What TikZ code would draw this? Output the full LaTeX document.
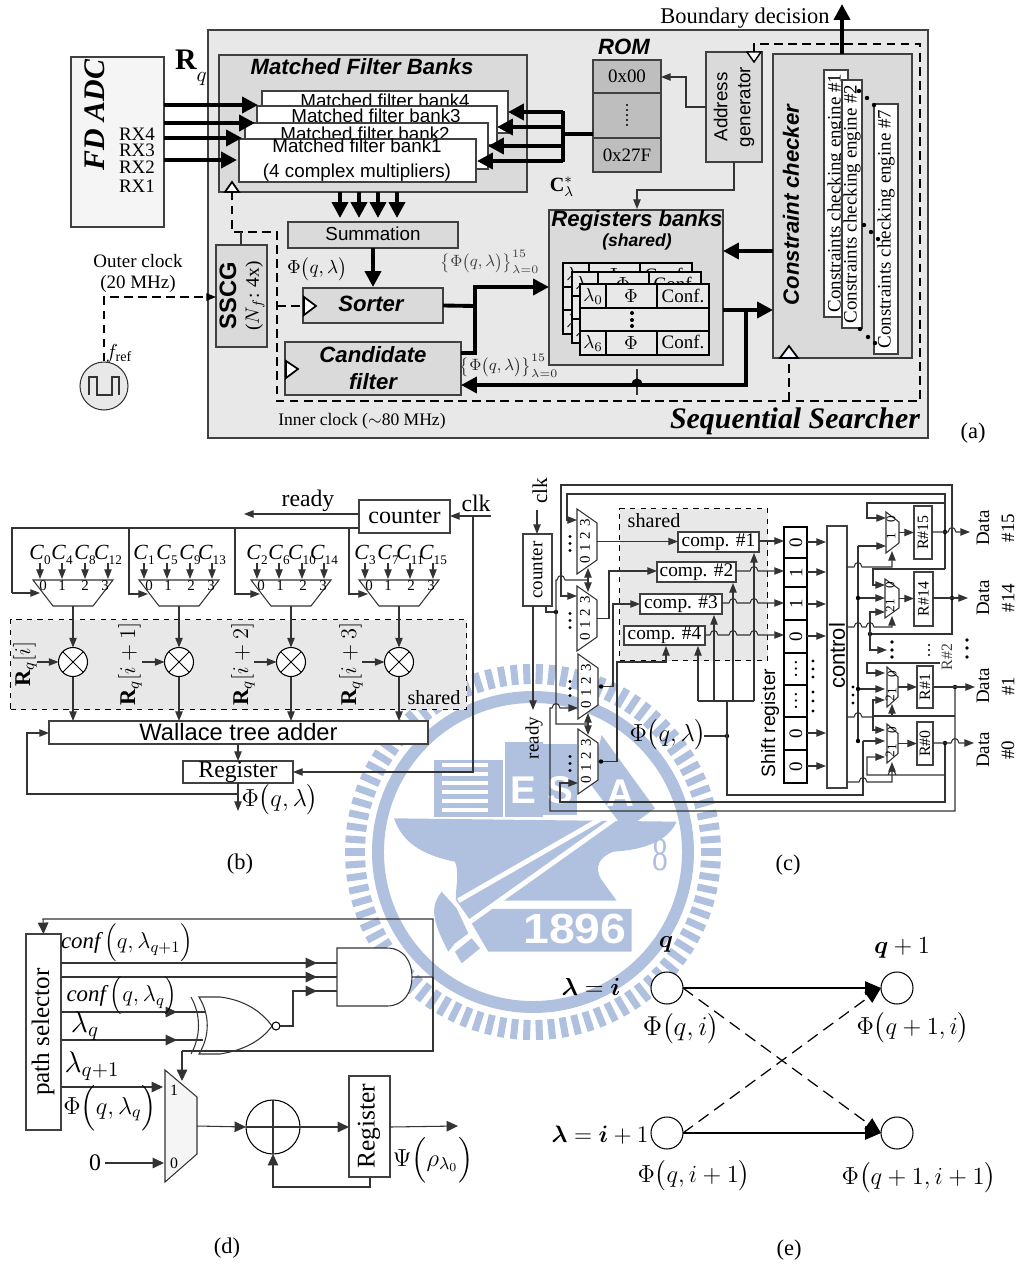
\documentclass[tikz,border=0pt]{standalone}
\usepackage{fix-cm}
\usepackage{amsmath}
\usepackage{fontspec}
\setmainfont{Liberation Serif}
\setsansfont{Liberation Sans}
\usetikzlibrary{arrows.meta}
\definecolor{panelA}{HTML}{E8E8E8}
\definecolor{panelB}{HTML}{DADADA}
\definecolor{romgray}{HTML}{BEBEBE}
\definecolor{wmblue}{HTML}{B0C0DF}
\newcommand{\hop}[2]{-- (#1-4,#2) .. controls (#1-3,#2-6) and (#1+3,#2-6) .. (#1+4,#2)}
\newcommand{\PhiQL}{\Phi\big(q,\lambda\big)}
\tikzset{
  sz/.style 2 args={minimum width=(#1)*0.02cm,minimum height=(#2)*0.02cm},
  boxnode/.style={draw=black!75,line width=.6pt,inner sep=0pt,outer sep=0pt,anchor=north west,align=center},
  wire/.style={line width=.6pt,draw=black!80},
  clocknet/.style={line width=.6pt,dash pattern=on 5pt off 3pt},
  bus/.style={line width=2.2pt,>={Triangle[length=9pt,width=9pt]}},
  clktri/.style={draw=black,fill=white,line width=1pt},
  lab/.style={inner sep=0pt,font=\fontsize{10.8}{12.5}\selectfont},
  labbig/.style={inner sep=0pt,font=\fontsize{13.5}{15}\selectfont},
  labsmall/.style={inner sep=0pt,font=\fontsize{9}{10}\selectfont},
  labtiny/.style={inner sep=0pt,font=\fontsize{7.5}{8}\selectfont},
  sanslab/.style={inner sep=0pt,align=center,font=\sffamily\fontsize{10.7}{13}\selectfont},
  headlab/.style={inner sep=0pt,align=center,font=\sffamily\bfseries\itshape\fontsize{12.6}{14}\selectfont},
  mathbig/.style={inner sep=0pt,font=\fontsize{14}{16}\selectfont},
  compbox/.style={boxnode,fill=white,font=\fontsize{11}{12}\selectfont},
  mul/.style={circle,draw=black,fill=white,line width=.6pt,sz={29}{29},inner sep=0pt,outer sep=0pt,
    path picture={\draw[line width=.5pt] (path picture bounding box.north east) -- (path picture bounding box.south west)
      (path picture bounding box.north west) -- (path picture bounding box.south east);}},
  state/.style={circle,draw=black,fill=white,line width=.6pt,sz={32}{32},inner sep=0pt,outer sep=0pt},
}

\begin{document}
\begin{tikzpicture}[x=0.02cm,y=-0.02cm,>={Triangle[length=5.5pt,width=4.2pt]}]
  \useasboundingbox (0,0) rectangle (1019,1268);

  % background emblem
  \foreach \a in {0,4,...,356}{
    \draw[wmblue,line width=4pt] ({533+168*cos(\a)},{852+168*sin(\a)}) -- ({533+188*cos(\a)},{852+188*sin(\a)});
  }
  \draw[wmblue,line width=6.8pt] (533,852) circle (155);
  \begin{scope}[shift={(330,650)},x=0.00667cm,y=-0.00667cm]
    \fill[wmblue] (192,505) -- (1040,515) .. controls (1010,580) and (930,600) .. (850,605)
      .. controls (810,620) and (790,650) .. (815,690) -- (860,752) -- (510,752) -- (420,810) -- (378,750)
      .. controls (375,720) and (390,670) .. (375,635) .. controls (300,620) and (220,590) .. (192,505) -- cycle;
    \fill[wmblue] (335,725) .. controls (300,770) and (305,810) .. (355,905) -- (375,880) -- (415,850) -- (380,775) -- cycle;
    \fill[wmblue] (375,905) -- (395,940) -- (450,895) -- (425,865) -- cycle;
    \fill[wmblue] (470,777) -- (905,777) -- (905,905) -- (475,905) -- (425,820) -- cycle;
    \draw[white,line width=2.8pt] (385,752) -- (850,485);
    \draw[white,line width=2.8pt] (420,815) -- (870,495);
    \fill[wmblue] (312,330) rectangle (520,500);
    \fill[wmblue] (525,275) rectangle (640,500);
    \fill[wmblue] (640,283) rectangle (740,495);
    \fill[wmblue] (815,255) -- (975,475) -- (885,540) -- (780,400) -- cycle;
    \foreach \yy in {345,372,399,426,453,480}{\draw[white,line width=2.4pt] (337,\yy) -- (473,\yy);}
    \node[font=\sffamily\bfseries\fontsize{24}{24}\selectfont,text=white,xscale=1.1] (wmyear) at (735,838) {1896};
    \node[font=\sffamily\bfseries\fontsize{22}{24}\selectfont,text=white] (wmE) at (580,420) {E};
    \node[font=\sffamily\bfseries\fontsize{22}{24}\selectfont,text=white] (wmS) at (690,420) {S};
    \node[font=\sffamily\bfseries\fontsize{22}{24}\selectfont,text=white] (wmA) at (870,430) {A};
    \node[font=\fontsize{18}{20}\selectfont,text=wmblue,yscale=1.5] (wm8) at (990,615) {8};
  \end{scope}

  % (a) sequential searcher
  \node[boxnode,fill=panelA,sz={720}{408}] (searcher) at (208,30) {};
  \node[boxnode,fill=white!96!black,sz={93}{170}] (adc) at (71,57) {};
  \node[inner sep=0pt,rotate=90,font=\bfseries\itshape\fontsize{17}{18}\selectfont] (adctxt) at (95,115) {FD ADC};
  \node[lab] (rx4) at (137,134) {RX4};
  \node[lab] (rx3) at (137,150) {RX3};
  \node[lab] (rx2) at (137,167) {RX2};
  \node[lab] (rx1) at (137,186) {RX1};
  \node[inner sep=0pt,font=\fontsize{17}{18}\selectfont] (rq) at (191,68) {$\mathbf{R}\raisebox{-7pt}{$\scriptstyle q$}$};

  \node[boxnode,fill=panelB,sz={308}{137}] (mfb) at (219,55) {};
  \node[headlab] (mfbtxt) at (362,67) {Matched Filter Banks};
  \node[boxnode,fill=white,sz={246}{42}] (bank4) at (262,91) {};
  \node[sanslab] (bank4txt) at (385,101) {Matched filter bank4};
  \node[boxnode,fill=white,sz={240}{39}] (bank3) at (257,106) {};
  \node[sanslab] (bank3txt) at (376,116) {Matched filter bank3};
  \node[boxnode,fill=white,sz={243}{46}] (bank2) at (245,123) {};
  \node[sanslab] (bank2txt) at (365,134) {Matched filter bank2};
  \node[boxnode,fill=white,sz={237}{43}] (bank1) at (239,139) {};
  \node[sanslab] (bank1txt) at (357,160) {Matched filter bank1\\[1.5pt](4 complex multipliers)};
  \foreach \yy/\xx in {105/258,123/255,138/242,160/237}{
    \draw[bus,->] (adc.east |- 0,\yy) -- (\xx,\yy);
  }
  \draw[clktri] (232,182) -- (225,192) -- (239,192) -- cycle;

  \node[headlab] (romtxt) at (624,47) {ROM};
  \node[boxnode,fill=romgray,sz={68}{33},font=\fontsize{10.8}{12}\selectfont] (rom0) at (593,60) {0x00};
  \node[boxnode,fill=romgray,sz={68}{45}] (rommid) at (593,93) {};
  \node[boxnode,fill=romgray,sz={68}{34},font=\fontsize{10.8}{12}\selectfont] (rom1) at (593,138) {0x27F};
  \foreach \yy in {105,110,...,125}{\fill (627,\yy) circle (1.2);}
  \draw[bus] (rommid.west |- 0,134) -- (563,134);
  \draw[bus] (563,111) -- (563,162);
  \foreach \yy/\xx in {112/508,127/497,146/488,161/477}{
    \draw[bus,->] (563,\yy) -- (\xx,\yy);
  }

  \node[boxnode,fill=panelB,sz={56}{110}] (addr) at (706,52) {};
  \node[sanslab,rotate=90] (addrtxt) at (734,107) {Address\\generator};
  \draw[wire,->] (addr.west) -- (686,107) -- (686,77) -- (rom0.east |- 0,77);
  \draw[wire,->] (addr.south) -- (734,190) -- (637,190) -- (637,209);
  \draw[clktri,line width=.8pt] (747,52) -- (761,52) -- (754,62) -- cycle;

  \node[inner sep=0pt,font=\fontsize{11.5}{13}\selectfont] (cstar) at (562,187) {$\mathbf{C}^{*}_{\lambda}$};

  \node[boxnode,fill=panelB,sz={174}{155}] (regs) at (549,210) {};
  \node[headlab] (regstxt) at (637,221) {Registers banks};
  \node[inner sep=0pt,font=\sffamily\bfseries\itshape\fontsize{10}{12}\selectfont] (sharedtxt) at (637,242) {(shared)};
  \foreach \dx/\dy in {-17/-21,-8/-12,0/0}{
    \begin{scope}[shift={(\dx,\dy)}]
      \draw[line width=1.1pt,fill=panelA] (580,284) rectangle (709,355);
      \draw[line width=1.1pt] (580,308) -- (709,308) (580,331) -- (709,331);
      \draw[line width=1.1pt] (606,284) -- (606,308) (606,331) -- (606,355);
      \draw[line width=1.1pt] (657,284) -- (657,308) (657,331) -- (657,355);
      \node[lab] at (593,296) {$\lambda_{0}$};
      \node[lab] at (631,296) {$\Phi$};
      \node[lab] at (683,296) {Conf.};
      \node[lab] at (593,343) {$\lambda_{6}$};
      \node[lab] at (631,343) {$\Phi$};
      \node[lab] at (683,342) {Conf.};
    \end{scope}
  }
  \foreach \yy in {313,320,326}{\fill (632,\yy) circle (2);}

  \node[boxnode,fill=panelB,sz={139}{304}] (check) at (773,54) {};
  \node[headlab,rotate=90] (checktxt) at (791,205) {Constraint checker};
  \node[boxnode,fill=white,sz={24}{247}] (eng1) at (824,70) {};
  \node[lab,rotate=90] (eng1txt) at (836,193) {Constraints checking engine \#1};
  \node[boxnode,fill=white,sz={20}{248}] (eng2) at (842,80) {};
  \node[lab,rotate=90] (eng2txt) at (852,204) {Constraints checking engine \#2};
  \node[boxnode,fill=white,sz={24}{250}] (eng7) at (874,104) {};
  \node[lab,rotate=90] (eng7txt) at (886,229) {Constraints checking engine \#7};
  \foreach \xx/\yy in {859/91,867/98,874/105,864/225,871/232,878/239,860/329,868/337,875/343}{
    \fill (\xx,\yy) circle (2.2);
  }
  \draw[clktri,fill=blue!5] (789,346) -- (780,358) -- (798,358) -- cycle;

  \node[labbig,font=\fontsize{12.8}{14}\selectfont] (bound) at (745,18) {Boundary decision};
  \draw[bus,->] (check.north -| 842,0) -- (842,4);
  \draw[bus,->] (check.west |- 0,251) -- (regs.east |- 0,251);
  \draw[bus,->] (regs.east |- 0,310) -- (check.west |- 0,310);

  \node[boxnode,fill=panelB,sz={170}{26}] (summ) at (288,222) {};
  \node[sanslab] (summtxt) at (373,234) {Summation};
  \foreach \xx in {340,359,378,397}{
    \draw[bus,->] (mfb.south -| \xx,0) -- (\xx,218);
  }
  \node[boxnode,fill=panelB,sz={140}{35}] (sorter) at (303,288) {};
  \node[headlab] (sortertxt) at (371,304) {Sorter};
  \draw[bus,->] (summ.south -| 373,0) -- (373,287);
  \node[lab] (sumphi) at (317,269) {$\PhiQL$};
  \node[boxnode,fill=panelB,sz={176}{53}] (cand) at (285,342) {};
  \node[headlab] (candtxt) at (373,368) {Candidate\\[1pt]filter};
  \draw[clktri] (304,297) -- (316,306) -- (304,315) -- cycle;
  \draw[clktri] (286,361) -- (298,369) -- (286,378) -- cycle;
  \node[boxnode,fill=panelB,sz={51}{102}] (sscg) at (216,245) {};
  \node[inner sep=0pt,rotate=90,font=\sffamily\bfseries\fontsize{13.5}{15}\selectfont] (sscgtxt) at (228,296) {SSCG};
  \node[inner sep=0pt,rotate=90,font=\fontsize{11}{13}\selectfont] (sscgnf) at (255,296) {($N_{f}$: 4x)};

  \draw[bus] (sorter.east) -- (475,306);
  \draw[bus,->] (cand.east |- 0,353) -- (475,353) -- (475,287) -- (regs.west |- 0,287);
  \node[inner sep=0pt,text=black!75,font=\fontsize{9.3}{11}\selectfont] (setphi) at (490,262) {$\left\{\PhiQL\right\}_{\lambda=0}^{15}$};
  \node[inner sep=0pt,text=black!85,font=\fontsize{9.3}{11}\selectfont] (setphib) at (509,366) {$\left\{\PhiQL\right\}_{\lambda=0}^{15}$};
  \draw[wire] (637,369) -- (637,395);
  \draw[bus,->] (746,310) -- (746,385) \hop{637}{385} -- (cand.east |- 0,385);

  % clock nets
  \draw[clocknet] (754,52) -- (754,44) -- (920,44) -- (920,401) -- (277,401) -- (277,232) -- (232,232) -- (232,192);
  \draw[clocknet] (789,401) -- (789,358);
  \draw[clocknet] (277,306) -- (303,306);
  \draw[wire] (241,232) -- (sscg.north -| 241,0);
  \node[lab] (outer) at (138,261) {Outer clock};
  \node[lab] (outerb) at (138,284) {(20 MHz)};
  \node[circle,draw=black!80,fill=panelA,sz={48}{48},inner sep=0pt,line width=.6pt] (osc) at (104,386) {};
  \draw[wire] (89,395) -- (89,377) -- (97,377) -- (97,395) -- (112,395) -- (112,377) -- (119,377) -- (119,395);
  \draw[clocknet,->] (osc.north) -- (104,297) -- (sscg.west |- 0,297);
  \node[inner sep=0pt,font=\fontsize{11.5}{13}\selectfont] (fref) at (119,353) {$f_{\mathrm{ref}}$};
  \node[inner sep=0pt,font=\fontsize{10}{12}\selectfont] (inner) at (362,421) {Inner clock ($\sim$80 MHz)};
  \node[inner sep=0pt,font=\bfseries\itshape\fontsize{17}{19}\selectfont] (seqtxt) at (795,421) {Sequential Searcher};
  \node[labbig,font=\fontsize{12.8}{14}\selectfont] (capa) at (973,433) {(a)};

  % (b) multiplier bank
  \node[boxnode,fill=white,sz={91}{33},font=\fontsize{13.7}{15}\selectfont] (cntb) at (359,500) {counter};
  \node[labbig] (readyb) at (308,501) {ready};
  \node[labbig] (clkb) at (476,503) {clk};
  \draw[wire,->] (cntb.west |- 0,514) -- (244,514);
  \draw[wire,->] (491,516) -- (cntb.east |- 0,516);
  \node[draw=black,dashed,line width=.6pt,fill=panelA,sz={456}{90},anchor=north west,inner sep=0pt] (sharedb) at (10,619) {};
  \node[labbig,font=\fontsize{11.5}{13}\selectfont] (sharedbtxt) at (434,698) {shared};
  \draw[wire] (cntb.west |- 0,528) -- (12,528) -- (12,593);
  \draw[wire,->] (12,593) -- (40,593);
  \foreach \xx/\xt in {129/148,235/260,349/368}{
    \draw[wire,->] (\xx,528) -- (\xx,594) -- (\xt,594);
  }
  \node[boxnode,fill=white,sz={379}{23},font=\sffamily\fontsize{13.5}{15}\selectfont] (wallace) at (49,721) {Wallace tree adder};
  \foreach \i/\xc/\xa/\xl/\tx in {0/73/37/25/{[i]},1/179/142/130/{[i+1]},2/291/254/243/{[i+2]},3/399/362/351/{[i+3]}}{
    \draw[wire,fill=white] (\xc-40,580) -- (\xc+40,580) -- (\xc+20,606) -- (\xc-20,606) -- cycle;
    \coordinate (muxb\i) at (\xc,606);
    \node[mul] (mul\i) at (\xc,662) {};
    \draw[wire,->] (muxb\i) -- (mul\i);
    \draw[wire,->] (mul\i) -- (mul\i |- wallace.north);
    \draw[wire,->] (\xa,662) -- (mul\i);
    \node[inner sep=0pt,rotate=90,font=\fontsize{12.8}{15}\selectfont] (rlab\i) at (\xl,664) {$\mathbf{R}_{q}\tx$};
    \foreach \d/\dg in {-30/0,-11/1,12/2,32/3}{
      \node[labtiny,font=\fontsize{8.5}{9}\selectfont] at (\xc+\d,586) {\dg};
    }
  }
  \foreach \xk/\n in {40/0,62/4,85/8,108/12,144/1,167/5,190/9,212/13,257/2,279/6,302/10,324/14,365/3,388/7,410/11,433/15}{
    \node[inner sep=0pt,font=\fontsize{12.3}{14}\selectfont] (c\n) at (\xk,555) {\textit{C}\raisebox{-2.5pt}{\fontsize{7.5}{9}\selectfont\n}};
    \draw[wire,->] (c\n.center) ++(0,8) -- ++(0,16);
  }
  \node[boxnode,fill=white,sz={110}{22},font=\fontsize{13.5}{15}\selectfont] (regb) at (183,761) {Register};
  \draw[wire,->] (wallace.south -| regb.north) -- (regb.north);
  \draw[wire,->] (regb.south) -- (238,811);
  \draw[wire,->] (238,794) -- (27,794) -- (27,733) -- (wallace.west |- 0,733);
  \draw[wire,->] (473,516) -- (473,772) -- (regb.east);
  \node[mathbig] (phib) at (280,800) {$\PhiQL$};
  \node[labbig,font=\fontsize{12.8}{14}\selectfont] (capb) at (240,864) {(b)};

  % (c) shift register search
  \node[labbig,rotate=90,font=\fontsize{12}{14}\selectfont] (clkc) at (540,491) {clk};
  \node[boxnode,fill=white,sz={29}{72}] (cntc) at (523,534) {};
  \node[lab,rotate=90] (cntctxt) at (537,570) {counter};
  \draw[wire,->] (537,510) -- (cntc.north -| 537,0);
  \draw[wire,->] (cntc.south -| 533,0) -- (533,710);
  \node[lab,rotate=90] (readyc) at (534,738) {ready};
  \node[draw=black,dashed,line width=.6pt,fill=panelA,sz={148}{152},anchor=north west,inner sep=0pt] (sharedc) at (619,508) {};
  \node[labbig,font=\fontsize{11.5}{13}\selectfont] (sharedctxt) at (654,521) {shared};
  \foreach \n/\lx/\rx/\ym in {A/577/597/541.5,B/577/597/618.5,C/578/598/686.5,D/578/598/761.5}{
    \draw[wire,fill=white] (\lx,\ym-32.5) -- (\rx,\ym-18.5) -- (\rx,\ym+18.5) -- (\lx,\ym+32.5) -- cycle;
    \coordinate (mux\n) at (\rx,\ym);
    \foreach \d/\dg in {18.5/0,6.5/1,-5.5/2,-18.5/3}{
      \node[labtiny,rotate=90,font=\fontsize{8.5}{9}\selectfont] at (\lx+8,\ym+\d) {\dg};
    }
    \foreach \d in {-7,0,7}{\fill (570,\ym+\d+2) circle (1.7);}
  }
  \node[compbox,sz={81}{20}] (comp1) at (678,532) {comp. \#1};
  \node[compbox,sz={79}{20}] (comp2) at (657,562) {comp. \#2};
  \node[compbox,sz={82}{20}] (comp3) at (640,594) {comp. \#3};
  \node[compbox,sz={81}{19}] (comp4) at (624,626) {comp. \#4};
  \draw[wire,->] (muxA) -- (comp1.west |- muxA);
  \draw[wire,->] (muxB) -- (609,618.5) -- (609,571) -- (comp2.west |- 0,571);
  \draw[wire,->] (muxC) -- (613,686.5) -- (613,604) -- (comp3.west |- 0,604);
  \draw[wire,->] (muxD) -- (617,761.5) -- (617,662) -- (666,662) -- (666,646);
  \fill (muxC) ++(3,0) circle (2.2);
  \fill (muxD) ++(3,0) circle (2.2);
  \draw[wire] (546,606) -- (546,612) -- (556,612);
  \fill (556,612) circle (2.2);
  \draw[wire] (588,724) -- (556,724) -- (556,580) \hop{561}{580} -- (588,580);
  \draw[wire,<->] (588,568) -- (588,592);
  \draw[wire,<->] (588,713) -- (588,735);
  \draw[wire,->] (945,569) -- (945,494) -- (567,494) -- (567,520) -- (577,520);
  \draw[wire,->] (870,634) -- (952,634) -- (952,485) -- (561,485) -- (561,596) -- (577,596);
  \draw[wire,->] (955,687) -- (955,811) -- (550,811) -- (550,708) \hop{556}{708} -- (578,708);
  \draw[wire,->] (945,743) -- (945,802) -- (560,802) -- (560,783) -- (578,783);

  \node[mathbig] (phic) at (668,735) {$\PhiQL$};
  \draw[wire] (704,736) -- (727,736);
  \fill (727,736) circle (2.2);
  \draw[wire] (727,701) -- (727,795) -- (863,795) -- (863,741);
  \draw[wire,->] (863,741) -- (885,741);
  \draw[wire] (698,701) -- (754,701);
  \draw[wire,->] (698,701) -- (698,646);
  \draw[wire,->] (714,701) -- (714,615);
  \draw[wire,->] (733,701) -- (733,583);
  \draw[wire,->] (754,701) -- (754,553);

  \foreach \n/\ya/\yb/\tx in {0/527/558/0,1/558/587/1,2/587/620/1,3/620/653/0,4/653/685/\dots,5/685/717/\dots,6/717/750/0,7/750/783/0}{
    \node[draw=black,line width=1.2pt,fill=white,sz={23}{\yb-\ya},inner sep=0pt,outer sep=0pt,anchor=north west] (sr\n) at (784,\ya) {};
    \node[lab,rotate=90] at (796,{(\ya+\yb)/2}) {\tx};
  }
  \node[sanslab,rotate=90,font=\sffamily\fontsize{11}{13}\selectfont] (srtxt) at (770,723) {Shift register};
  \node[boxnode,fill=white,sz={20}{262}] (ctrl) at (827,526) {};
  \node[sanslab,rotate=90,font=\sffamily\fontsize{12.5}{14}\selectfont] (ctrltxt) at (837,656) {control};
  \draw[wire,->] (comp1.east |- 0,541) -- (sr0.west |- 0,541);
  \draw[wire,->] (comp2.east |- 0,571) \hop{754}{571} -- (sr1.west |- 0,571);
  \draw[wire,->] (comp3.east |- 0,603) \hop{733}{603} \hop{754}{603} -- (sr2.west |- 0,603);
  \draw[wire,->] (comp4.east |- 0,635) \hop{714}{635} \hop{733}{635} \hop{754}{635} -- (sr3.west |- 0,635);
  \foreach \yy in {542,572,604,636,733,766}{
    \draw[wire,->] (807,\yy) -- (826,\yy);
  }
  \foreach \yy in {661,669,677,692,701,711}{\fill (813,\yy) circle (1.7);}
  \foreach \yy in {687,695,703}{\fill (853,\yy) circle (1.7);}

  % right hand muxes and registers
  \foreach \n/\lx/\rx/\ym/\h/\hh/\xb/\wb/\yb/\hb/\tx in {a/886/899/532.5/20.5/10.5/914/18/506/53/R\#15,b/885/899/598.5/19.5/9.5/914/19/572/54/R\#14,c/887/898/687/20/10/917/16/666/42/R\#1,d/887/898/743.5/19.5/10/917/16/722/43/R\#0}{
    \draw[wire,fill=white] (\lx,\ym-\h) -- (\rx,\ym-\hh) -- (\rx,\ym+\hh) -- (\lx,\ym+\h) -- cycle;
    \node[boxnode,fill=none,sz={\wb}{\hb}] (rr\n) at (\xb,\yb) {};
    \node[labsmall,rotate=90] at (\xb+\wb/2,\yb+\hb/2) {\tx};
    \draw[wire,->] (\rx,\ym) -- (\xb,\ym);
    \node[labtiny,rotate=90] at (\lx+5,\ym-13) {0};
    \node[labtiny,rotate=90] at (\lx+5,\ym+4) {1};
  }
  \foreach \yy in {598.5,687,743.5}{\node[labtiny,rotate=90] at (890,\yy+11) {2};}
  \draw[wire] (858,546) -- (858,741);
  \draw[wire,->] (858,546) -- (886,546);
  \draw[wire,->] (858,598) -- (885,598);
  \draw[wire,->] (858,689) -- (885,689);
  \foreach \xx/\yy in {858/598,858/689,858/741,945/532,952/598,955/687,945/743,870/634}{\fill (\xx,\yy) circle (2.2);}
  \draw[wire,->] (945,503) -- (867,503) -- (867,518) -- (886,518);
  \draw[wire,->] (945,569) -- (873,569) -- (873,585) -- (885,585);
  \draw[wire,->] (870,634) -- (870,612) -- (885,612);
  \draw[wire,->] (870,634) -- (870,650) -- (887,650);
  \draw[wire,->] (940,663) -- (867,663) -- (867,673) -- (885,673);
  \draw[wire,->] (873,716) -- (873,700) -- (885,700);
  \draw[wire,->] (873,716) -- (873,730) -- (885,730);
  \draw[wire] (955,716) -- (873,716);
  \draw[wire,->] (892,716) -- (892,704);
  \draw[wire,->] (945,775) \hop{892}{775} -- (867,775) -- (867,757) -- (885,757);
  \draw[wire] (847,717) \hop{858}{717} -- (873,717);
  \draw[wire,->] (847,567) \hop{858}{567} -- (892,567) -- (892,551);
  \draw[wire,->] (847,627) \hop{858}{627} \hop{870}{627} -- (892,627) -- (892,616);
  \draw[wire,->] (847,782) \hop{863}{782} -- (892,782) -- (892,762);
  \draw[wire,->] (rra.east |- 0,532) \hop{952}{532} -- (970,532);
  \draw[wire,->] (rrb.east |- 0,598) -- (968,598);
  \draw[wire,->] (rrc.east |- 0,687) -- (975,687);
  \draw[wire,->] (rrd.east |- 0,743) \hop{955}{743} -- (974,743);
  \foreach \xx/\yy in {892/642,892/650,892/657,967/640,967/648,967/657}{\fill (\xx,\yy) circle (1.9);}
  \foreach \yy in {645,650,655}{\fill (929,\yy) circle (1.1);}
  \node[labsmall,rotate=90,text=black!75] (rtwo) at (947,657) {R\#2};
  \foreach \n/\yy/\tx in {a/528/\#15,b/598/\#14,c/686/\#1,d/750/\#0}{
    \node[lab,rotate=90] (data\n) at (983,\yy) {Data};
    \node[lab,rotate=90] (num\n) at (1008,\yy) {\tx};
  }
  \node[labbig,font=\fontsize{12.8}{14}\selectfont] (capc) at (788,865) {(c)};

  % (d) path selection
  \tikzset{>={Triangle[length=6.5pt,width=6pt]}}
  \node[boxnode,fill=white,sz={35}{196}] (psel) at (26,934) {};
  \node[labbig,rotate=90,font=\fontsize{14.3}{16}\selectfont] (pseltxt) at (43,1032) {path selector};
  \draw[wire,fill=white] (337,948) -- (387,948) .. controls (404,948) and (412,962) .. (412,977)
    .. controls (412,992) and (404,1006) .. (387,1006) -- (337,1006) -- cycle;
  \coordinate (andout) at (412,977);
  \draw[wire,fill=white] (199,997) -- (220,997) .. controls (245,1000) and (262,1012) .. (272,1026)
    .. controls (262,1040) and (245,1050) .. (220,1054) -- (199,1054) .. controls (210,1036) and (210,1015) .. (199,997) -- cycle;
  \draw[wire] (191,997) .. controls (201,1015) and (201,1036) .. (191,1054);
  \node[circle,draw=black,fill=white,line width=.6pt,sz={8}{8},inner sep=0pt,outer sep=0pt] (nor) at (276,1026) {};
  \draw[wire,->] (andout) -- (433,977) -- (433,919) -- (43,919) -- (psel.north);
  \draw[wire] (433,977) -- (433,1051) -- (182,1051);
  \foreach \yy in {963,977}{
    \draw[wire] (psel.east |- 0,\yy) -- (337,\yy);
    \draw[wire,->] (300,\yy) -- (317,\yy);
  }
  \draw[wire] (nor.east) -- (293,1026) -- (293,991) -- (337,991);
  \draw[wire,->] (293,991) -- (317,991);
  \foreach \yy/\xx in {1012/206,1040/203}{
    \draw[wire] (psel.east |- 0,\yy) -- (\xx,\yy);
    \draw[wire,->] (160,\yy) -- (177,\yy);
  }
  \draw[wire,fill=black!4] (165,1070) -- (197,1097) -- (197,1154) -- (165,1182) -- cycle;
  \coordinate (muxdout) at (197,1126);
  \draw[wire,->] (182,1051) -- (182,1081);
  \node[lab,font=\fontsize{9}{10}\selectfont] (muxone) at (174,1090) {1};
  \node[lab,font=\fontsize{9}{10}\selectfont] (muxzero) at (174,1163) {0};
  \draw[wire,->] (psel.east |- 0,1087) -- (163,1087);
  \node[labbig] (zero) at (95,1163) {0};
  \draw[wire,->] (zero.east) ++(4,0) -- (164,1163);
  \node[circle,draw=black,line width=.6pt,sz={54}{54},inner sep=0pt,outer sep=0pt] (adder) at (273,1127) {};
  \draw[wire] (adder.north) -- (adder.south) (adder.west) -- (adder.east);
  \draw[wire,->] (muxdout) -- (adder.west);
  \node[boxnode,fill=white,sz={41}{101}] (regd) at (349,1076) {};
  \node[labbig,rotate=90,font=\fontsize{14.5}{16}\selectfont] (regdtxt) at (369,1126) {Register};
  \draw[wire,->] (adder.east) -- (regd.west |- adder);
  \draw[wire,->] (regd.east |- adder) -- (458,1126);
  \draw[wire,->] (regd.south -| 370,0) -- (370,1187) -- (273,1187) -- (adder.south);
  \node[mathbig,font=\fontsize{13}{15}\selectfont] (confa) at (127,943) {$\textit{conf}\,\Big(q,\lambda_{q+1}\Big)$};
  \node[mathbig,font=\fontsize{13}{15}\selectfont] (confb) at (122,996) {$\textit{conf}\,\Big(q,\lambda_{q}\Big)$};
  \node[inner sep=0pt,font=\fontsize{17}{18}\selectfont] (lamq) at (85,1026) {$\lambda_{q}$};
  \node[inner sep=0pt,font=\fontsize{17}{18}\selectfont] (lamqb) at (92,1066) {$\lambda_{q+1}$};
  \node[mathbig] (phid) at (110,1108) {$\Phi\Big(q,\lambda_{q}\Big)$};
  \node[mathbig] (psid) at (433,1160) {$\Psi\Big(\rho_{\lambda_{0}}\Big)$};
  \node[labbig,font=\fontsize{12.8}{14}\selectfont] (capd) at (227,1248) {(d)};

  % (e) trellis
  \node[state] (s00) at (667,988) {};
  \node[state] (s10) at (897,988) {};
  \node[state] (s01) at (667,1133) {};
  \node[state] (s11) at (897,1133) {};
  \tikzset{>={Triangle[length=9pt,width=7.5pt]}}
  \draw[line width=.8pt,->] (s00) -- (s10);
  \draw[line width=.8pt,->] (s01) -- (s11);
  \draw[line width=.7pt,dash pattern=on 7pt off 4pt,->] (s00.east) -- (s11.west);
  \draw[line width=.7pt,dash pattern=on 7pt off 4pt,->] (s01.east) -- (s10.west);
  \node[mathbig] (qa) at (666,944) {$\boldsymbol{q}$};
  \node[mathbig] (qb) at (902,948) {$\boldsymbol{q}+1$};
  \node[mathbig] (lam1) at (591,987) {$\boldsymbol{\lambda}=\boldsymbol{i}$};
  \node[mathbig,font=\fontsize{13.5}{15}\selectfont] (lam2) at (600,1135) {$\boldsymbol{\lambda}=\boldsymbol{i}+1$};
  \node[mathbig,font=\fontsize{15.5}{17}\selectfont] (phi00) at (681,1029) {$\Phi\big(q,i\big)$};
  \node[mathbig] (phi10) at (913,1028) {$\Phi\big(q+1,i\big)$};
  \node[mathbig] (phi01) at (694,1176) {$\Phi\big(q,i+1\big)$};
  \node[mathbig] (phi11) at (919,1178) {$\Phi\big(q+1,i+1\big)$};
  \node[labbig,font=\fontsize{12.8}{14}\selectfont] (cape) at (789,1250) {(e)};
\end{tikzpicture}
\end{document}
